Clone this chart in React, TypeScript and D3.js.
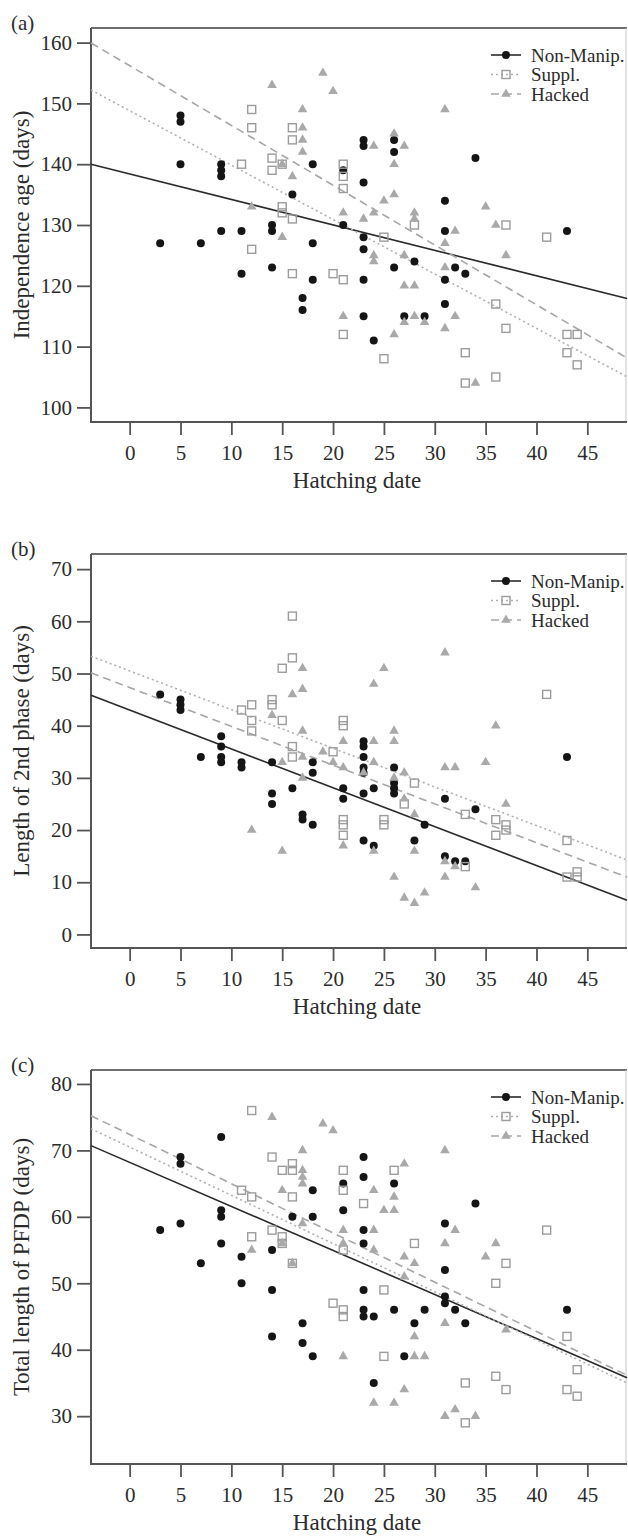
import * as d3 from 'd3';
import React, { useEffect, useRef } from 'react';

// [hatching date, days]
const nonManipA = [[3,127],[5,148],[5,147],[5,140],[7,127],[9,140],[9,139],[9,138],[9,129],[11,129],[11,122],[14,130],[14,129],[14,123],[16,135],[17,118],[17,116],[18,140],[18,127],[18,121],[21,139],[21,130],[23,144],[23,143],[23,137],[23,128],[23,126],[23,121],[23,115],[24,111],[26,144],[26,142],[26,123],[27,115],[28,124],[29,115],[31,134],[31,129],[31,121],[31,117],[32,123],[33,122],[34,141],[43,129]];
const supplA = [[11,140],[12,149],[12,146],[12,126],[14,141],[14,139],[15,140],[15,133],[15,132],[16,146],[16,144],[16,131],[16,122],[20,122],[21,140],[21,138],[21,136],[21,121],[21,112],[25,128],[25,108],[28,130],[33,109],[33,104],[36,117],[36,105],[37,130],[37,113],[41,128],[43,112],[43,109],[44,112],[44,107]];
const hackedA = [[12,133],[14,153],[15,140],[15,128],[16,138],[17,149],[17,146],[17,144],[17,142],[19,155],[20,152],[21,132],[21,115],[23,131],[24,143],[24,132],[24,125],[24,124],[25,134],[26,145],[26,140],[26,135],[26,112],[27,143],[27,125],[27,120],[27,114],[28,132],[28,131],[28,120],[28,115],[29,114],[31,149],[31,127],[31,123],[31,113],[32,129],[32,115],[34,104],[35,133],[36,130],[37,125]];

const nonManipB = [[3,46],[5,45],[5,44],[5,43],[7,34],[9,38],[9,36],[9,34],[9,33],[11,33],[11,32],[14,33],[14,27],[14,25],[16,28],[17,23],[17,22],[18,33],[18,31],[18,21],[21,28],[21,26],[23,37],[23,36],[23,34],[23,32],[23,31],[23,27],[23,18],[24,28],[24,17],[26,32],[26,29],[26,28],[26,27],[28,18],[29,21],[31,26],[31,15],[32,14],[33,14],[34,24],[43,34]];
const supplB = [[11,43],[12,44],[12,41],[12,39],[14,45],[14,44],[15,51],[15,41],[16,61],[16,53],[16,36],[16,34],[20,35],[21,41],[21,40],[21,22],[21,21],[21,19],[25,22],[25,21],[27,25],[28,29],[33,23],[33,13],[36,22],[36,19],[37,21],[37,20],[41,46],[43,18],[43,11],[44,12],[44,11]];
const hackedB = [[12,20],[14,42],[15,33],[15,16],[16,46],[17,51],[17,47],[17,39],[17,34],[17,30],[19,35],[20,33],[21,37],[21,32],[21,17],[23,31],[24,48],[24,37],[24,33],[24,16],[25,51],[26,39],[26,37],[26,30],[26,11],[27,31],[27,26],[27,7],[28,23],[28,16],[28,6],[29,8],[31,54],[31,32],[31,14],[31,11],[32,32],[32,13],[34,9],[35,33],[36,40],[37,25]];

const nonManipC = [[3,58],[5,69],[5,68],[5,59],[7,53],[9,72],[9,61],[9,60],[9,56],[11,54],[11,50],[14,55],[14,49],[14,42],[16,60],[17,44],[17,41],[18,64],[18,60],[18,39],[21,65],[21,61],[23,69],[23,66],[23,58],[23,56],[23,49],[23,46],[23,45],[24,45],[24,35],[26,65],[26,46],[27,39],[28,44],[29,46],[31,59],[31,52],[31,48],[31,47],[32,46],[33,44],[34,62],[43,46]];
const supplC = [[11,64],[12,76],[12,63],[12,57],[14,69],[14,58],[15,67],[15,57],[15,56],[16,68],[16,67],[16,63],[16,53],[20,47],[21,67],[21,64],[21,55],[21,46],[21,45],[23,62],[25,49],[25,39],[26,67],[28,56],[33,35],[33,29],[36,50],[36,36],[37,53],[37,34],[41,58],[43,42],[43,34],[44,37],[44,33]];
const hackedC = [[12,55],[14,75],[15,64],[15,56],[16,53],[17,70],[17,67],[17,66],[17,65],[17,59],[19,74],[20,73],[21,58],[21,56],[21,39],[24,64],[24,58],[24,55],[24,32],[25,61],[26,63],[26,61],[26,32],[27,68],[27,54],[27,51],[27,34],[28,53],[28,42],[28,39],[29,39],[31,70],[31,56],[31,44],[31,30],[32,58],[32,31],[34,30],[35,54],[36,56],[37,43]];

// fitted lines: [intercept, slope] for Non-Manip., Suppl., Hacked
const fitsA = [[138.4, -0.419], [148.8, -0.895], [156.2, -0.983]];
const fitsB = [[43.0, -0.745], [50.5, -0.741], [47.3, -0.743]];
const fitsC = [[68.2, -0.663], [70.5, -0.726], [72.4, -0.741]];

const xTicks = [0, 5, 10, 15, 20, 25, 30, 35, 40, 45];
const yTicksA = [100, 110, 120, 130, 140, 150, 160];
const yTicksB = [0, 10, 20, 30, 40, 50, 60, 70];
const yTicksC = [30, 40, 50, 60, 70, 80];
const groups = ['Non-Manip.', 'Suppl.', 'Hacked'];

const panels = [
  { tag: '(a)', title: 'Independence age (days)', top: 28, yDomain: [97.6, 162.4], yTicks: yTicksA, series: [nonManipA, supplA, hackedA], fits: fitsA },
  { tag: '(b)', title: 'Length of 2nd phase (days)', top: 554, yDomain: [-2.6, 72.9], yTicks: yTicksB, series: [nonManipB, supplB, hackedB], fits: fitsB },
  { tag: '(c)', title: 'Total length of PFDP (days)', top: 1070, yDomain: [22.8, 82.1], yTicks: yTicksC, series: [nonManipC, supplC, hackedC], fits: fitsC },
];

const FONT = 'Liberation Serif, DejaVu Serif, serif';
const TEXT = '#2b2b2b';
const left = 91, right = 627, plotH = 394;
const xDomain = [-3.8, 48.9];
const lineStyles = [
  { stroke: '#2a2a2a', dash: null, width: 1.6 },
  { stroke: '#b0b0b0', dash: '2,3', width: 1.6 },
  { stroke: '#a6a6a6', dash: '8,5', width: 1.6 },
];

function drawMarker(g: any, kind: number, x: number, y: number) {
  if (kind === 0) {
    g.append('circle').attr('cx', x).attr('cy', y).attr('r', 4).attr('fill', '#151515');
  } else if (kind === 1) {
    g.append('rect').attr('x', x - 4).attr('y', y - 4).attr('width', 8).attr('height', 8)
      .attr('fill', 'none').attr('stroke', '#9c9c9c').attr('stroke-width', 1.4);
  } else {
    g.append('path').attr('d', d3.symbol(d3.symbolTriangle, 40)())
      .attr('transform', `translate(${x},${y})`).attr('fill', '#a9a9a9');
  }
}

export default function App() {
  const ref = useRef<SVGSVGElement>(null);

  useEffect(() => {
    const svg = d3.select(ref.current);
    svg.selectAll('*').remove();

    panels.forEach((p) => {
      const top = p.top, bottom = p.top + plotH;
      const x = d3.scaleLinear().domain(xDomain).range([left, right]);
      const y = d3.scaleLinear().domain(p.yDomain).range([bottom, top]);
      const g = svg.append('g');

      // frame
      g.append('line').attr('x1', left).attr('x2', right).attr('y1', top).attr('y2', top)
        .attr('stroke', '#6e6e6e').attr('stroke-width', 2);
      g.append('line').attr('x1', right - 1).attr('x2', right - 1).attr('y1', top).attr('y2', bottom)
        .attr('stroke', '#c8c8c8').attr('stroke-width', 1);

      // axes
      const yAxis = g.append('g').attr('transform', `translate(${left},0)`)
        .call(d3.axisLeft(y).tickValues(p.yTicks).tickSize(14).tickPadding(5).tickSizeOuter(0));
      const xAxis = g.append('g').attr('transform', `translate(0,${bottom})`)
        .call(d3.axisBottom(x).tickValues(xTicks).tickSize(13).tickPadding(10).tickSizeOuter(0));
      [yAxis, xAxis].forEach((a) => {
        a.attr('font-family', null).attr('font-size', null);
        a.select('.domain').attr('stroke', '#555').attr('stroke-width', 2);
        a.selectAll('.tick line').attr('stroke', '#555').attr('stroke-width', 1.8);
        a.selectAll('.tick text').style('font-family', FONT).style('font-size', '21px').attr('fill', TEXT);
      });
      yAxis.select('.domain').attr('d', `M0,${top}V${bottom + 1}`);
      xAxis.select('.domain').attr('d', `M${left - 1},0H${right}`);

      // fitted lines
      p.fits.forEach((f, i) => {
        const st = lineStyles[i];
        const pts = xDomain.map((d) => [x(d), y(f[0] + f[1] * d)] as [number, number]);
        g.append('path').attr('d', d3.line()(pts)).attr('fill', 'none')
          .attr('stroke', st.stroke).attr('stroke-width', st.width)
          .attr('stroke-dasharray', st.dash);
      });

      // points
      p.series.forEach((s, i) => {
        const sg = g.append('g');
        s.forEach((d) => drawMarker(sg, i, x(d[0]), y(d[1])));
      });

      // legend
      groups.forEach((name, i) => {
        const ly = top + 27 + i * 19.5;
        const st = lineStyles[i];
        g.append('line').attr('x1', 491).attr('x2', 521).attr('y1', ly).attr('y2', ly)
          .attr('stroke', st.stroke).attr('stroke-width', st.width).attr('stroke-dasharray', st.dash);
        drawMarker(g, i, 506, ly);
        g.append('text').attr('x', 531).attr('y', ly).attr('dy', '0.35em')
          .style('font-family', FONT).style('font-size', '19px').attr('fill', TEXT).text(name);
      });

      // titles
      g.append('text').attr('x', (left + right) / 2 - 2).attr('y', bottom + 66)
        .attr('text-anchor', 'middle').style('font-family', FONT).style('font-size', '23px').attr('fill', TEXT)
        .text('Hatching date');
      g.append('text').attr('transform', `translate(29,${(top + bottom) / 2}) rotate(-90)`)
        .attr('text-anchor', 'middle').style('font-family', FONT).style('font-size', '23px').attr('fill', TEXT)
        .text(p.title);
      g.append('text').attr('x', 11).attr('y', top + 2)
        .style('font-family', FONT).style('font-size', '21px').attr('fill', TEXT).text(p.tag);
    });
  }, []);

  return (
    <div style={{ position: 'absolute', left: 0, top: 0, background: '#fff' }}>
      <svg ref={ref} width={628} height={1536} style={{ display: 'block' }} />
    </div>
  );
}
